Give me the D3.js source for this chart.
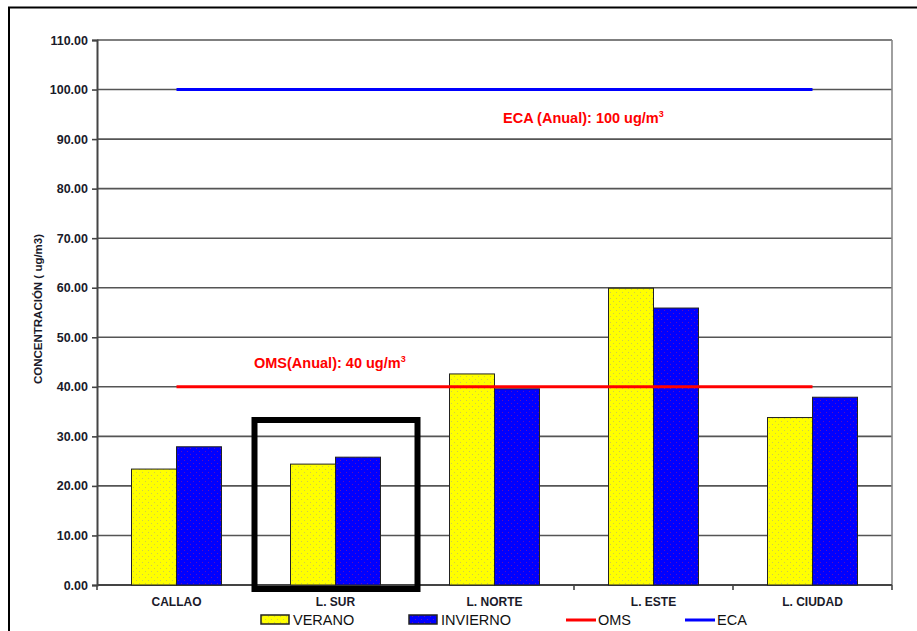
<!DOCTYPE html>
<html>
<head>
<meta charset="utf-8">
<script src="https://cdn.jsdelivr.net/npm/d3@7"></script>
<style>
  html, body { margin: 0; padding: 0; background: #fff; }
  svg { display: block; font-family: "Liberation Sans", Arial, sans-serif; }
</style>
</head>
<body>
<svg id="chart" width="917" height="631"></svg>
<script>
// ---- data ----
const categories = ["CALLAO", "L. SUR", "L. NORTE", "L. ESTE", "L. CIUDAD"];
const verano = [23.4, 24.4, 42.6, 59.9, 33.8];
const invierno = [27.9, 25.8, 39.6, 55.9, 37.9];
const omsValue = 40;
const ecaValue = 100;
const yTicks = [0, 10, 20, 30, 40, 50, 60, 70, 80, 90, 100, 110];
const seriesNames = ["VERANO", "INVIERNO", "OMS", "ECA"];
const highlightCategory = "L. SUR";

// ---- layout ----
const svg = d3.select("#chart");
const margin = { left: 97, right: 25, top: 40, bottom: 46 };
const W = 917, H = 631;
const x0 = margin.left, x1 = W - margin.right; // 97 .. 892
const yTop = 40, yBot = 585;

const x = d3.scaleBand().domain(categories).range([x0, x1]).paddingInner(0).paddingOuter(0);
const y = d3.scaleLinear().domain([0, 110]).range([yBot, yTop]);
const barW = 45;

// outer frame
svg.append("rect").attr("x", 9).attr("y", 7.5).attr("width", 950).attr("height", 700)
  .attr("fill", "none").attr("stroke", "#000").attr("stroke-width", 2);

// patterns
const defs = svg.append("defs");
function dotPattern(id, bg, dot) {
  const p = defs.append("pattern").attr("id", id).attr("patternUnits", "userSpaceOnUse")
    .attr("width", 6).attr("height", 6);
  p.append("rect").attr("width", 6).attr("height", 6).attr("fill", bg);
  p.append("rect").attr("x", 1).attr("y", 1).attr("width", 1).attr("height", 1).attr("fill", dot).attr("opacity", 0.5);
  p.append("rect").attr("x", 4).attr("y", 4).attr("width", 1).attr("height", 1).attr("fill", dot).attr("opacity", 0.5);
}
dotPattern("patY", "#ffff00", "#9a9a9a");
dotPattern("patB", "#0000ff", "#c0206a");

// gridlines
svg.append("g").selectAll("line").data(yTicks.filter(d => d > 0)).join("line")
  .attr("x1", x0).attr("x2", x1)
  .attr("y1", d => y(d)).attr("y2", d => y(d))
  .attr("stroke", "#555").attr("stroke-width", 1.6);

// right border of plot
svg.append("line").attr("x1", x1).attr("x2", x1).attr("y1", yTop).attr("y2", yBot)
  .attr("stroke", "#888").attr("stroke-width", 1.6);

// y axis
const yAxis = d3.axisLeft(y).tickValues(yTicks).tickFormat(d3.format(".2f")).tickSize(5).tickPadding(4);
const gy = svg.append("g").attr("transform", `translate(${x0},0)`).call(yAxis);
gy.select(".domain").attr("stroke", "#444").attr("stroke-width", 2);
gy.selectAll(".tick line").attr("stroke", "#444").attr("stroke-width", 1.6);
gy.selectAll(".tick text").attr("font-size", 12.5).attr("font-weight", "bold").attr("fill", "#1a1a2a")
  .attr("font-family", "'Liberation Sans', Arial, sans-serif");

// x axis
const gx = svg.append("g").attr("transform", `translate(0,${yBot})`);
gx.append("line").attr("x1", x0).attr("x2", x1).attr("stroke", "#444").attr("stroke-width", 2);
const bounds = categories.map(c => x(c)).concat([x1]);
gx.selectAll("line.tk").data(bounds).join("line").attr("class", "tk")
  .attr("x1", d => d).attr("x2", d => d).attr("y1", 0).attr("y2", 5)
  .attr("stroke", "#444").attr("stroke-width", 1.6);
gx.selectAll("text").data(categories).join("text")
  .attr("x", d => x(d) + x.bandwidth() / 2).attr("y", 21)
  .attr("text-anchor", "middle").attr("font-size", 12).attr("font-weight", "bold").attr("fill", "#1a1a2a")
  .text(d => d);

// y axis title
svg.append("text")
  .attr("transform", `translate(42,309) rotate(-90)`)
  .attr("text-anchor", "middle").attr("font-size", 11.5).attr("font-weight", "bold").attr("fill", "#1a1a2a")
  .text("CONCENTRACIÓN  ( ug/m3)");

// bars
const bars = svg.append("g");
categories.forEach((c, i) => {
  const cx = x(c) + x.bandwidth() / 2;
  bars.append("rect").attr("x", cx - barW).attr("y", y(verano[i])).attr("width", barW)
    .attr("height", y(0) - y(verano[i])).attr("fill", "url(#patY)").attr("stroke", "#222").attr("stroke-width", 1);
  bars.append("rect").attr("x", cx).attr("y", y(invierno[i])).attr("width", barW)
    .attr("height", y(0) - y(invierno[i])).attr("fill", "url(#patB)").attr("stroke", "#222").attr("stroke-width", 1);
});

// reference lines
const lx1 = x(categories[0]) + x.bandwidth() / 2;
const lx2 = x(categories[categories.length - 1]) + x.bandwidth() / 2;
svg.append("line").attr("x1", lx1).attr("x2", lx2).attr("y1", y(ecaValue)).attr("y2", y(ecaValue))
  .attr("stroke", "#0000ff").attr("stroke-width", 3);
svg.append("line").attr("x1", lx1).attr("x2", lx2).attr("y1", y(omsValue)).attr("y2", y(omsValue))
  .attr("stroke", "#ff0000").attr("stroke-width", 3);

// annotations
function annot(txt, ax, ay) {
  const t = svg.append("text").attr("x", ax).attr("y", ay).attr("font-size", 14.5)
    .attr("font-weight", "bold").attr("fill", "#ff0000");
  t.append("tspan").text(txt);
  t.append("tspan").attr("dy", -6).attr("font-size", 9).text("3");
}
annot("ECA (Anual): 100 ug/m", 503, y(ecaValue) + 33);
annot("OMS(Anual): 40 ug/m", 254, y(omsValue) - 19);

// highlight rectangle around L. SUR
const hc = x(highlightCategory) + x.bandwidth() / 2;
svg.append("rect").attr("x", hc - 81).attr("y", 420).attr("width", 163).attr("height", 169)
  .attr("fill", "none").attr("stroke", "#000").attr("stroke-width", 6);

// legend
const leg = svg.append("g").attr("font-size", 14.5).attr("fill", "#111");
const legY = 620;
const legItems = [
  { name: seriesNames[0], x: 261, type: "rect", fill: "url(#patY)" },
  { name: seriesNames[1], x: 409, type: "rect", fill: "url(#patB)" },
  { name: seriesNames[2], x: 566, type: "line", color: "#ff0000" },
  { name: seriesNames[3], x: 685, type: "line", color: "#0000ff" }
];
legItems.forEach(it => {
  if (it.type === "rect") {
    leg.append("rect").attr("x", it.x).attr("y", legY - 5).attr("width", 28).attr("height", 9)
      .attr("fill", it.fill).attr("stroke", "#222").attr("stroke-width", 1.5);
  } else {
    leg.append("line").attr("x1", it.x).attr("x2", it.x + 30).attr("y1", legY).attr("y2", legY)
      .attr("stroke", it.color).attr("stroke-width", 3);
  }
  leg.append("text").attr("x", it.x + 32).attr("y", legY + 5).text(it.name);
});
</script>
</body>
</html>
